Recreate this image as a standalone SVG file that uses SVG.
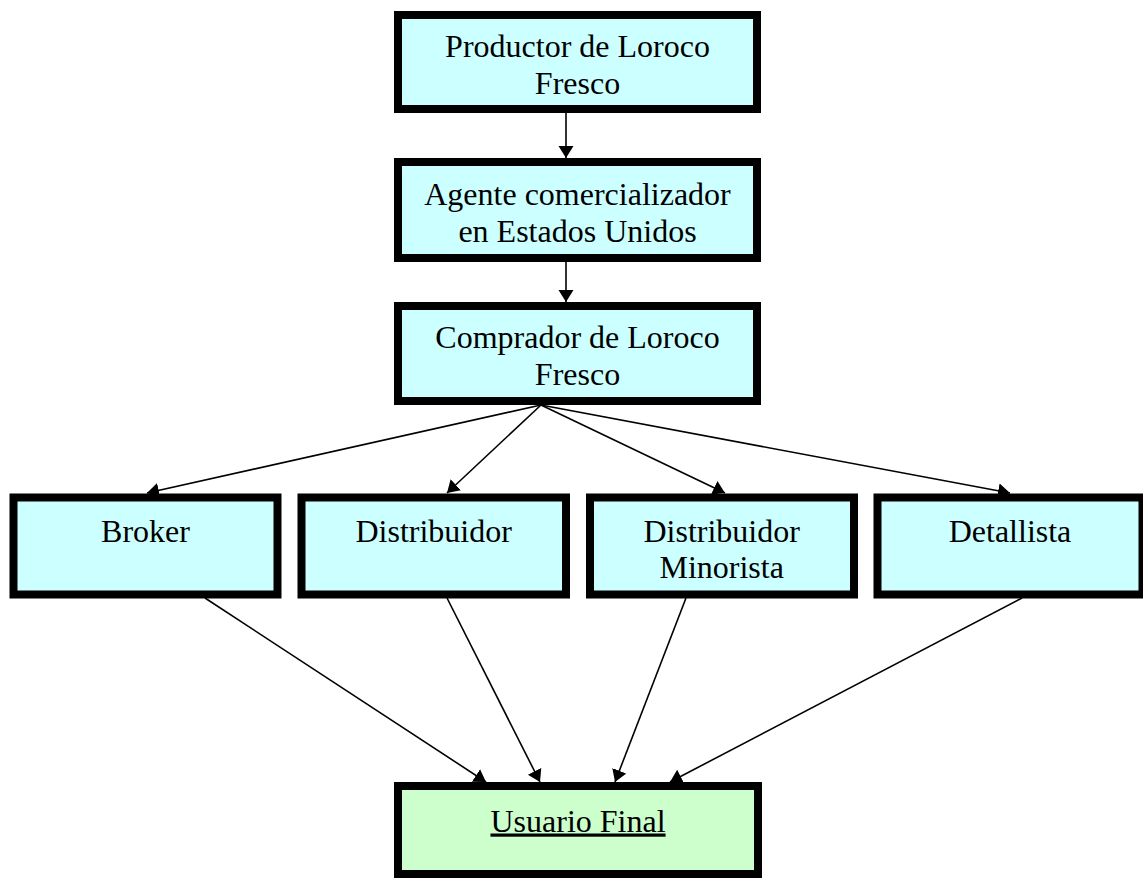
<svg xmlns="http://www.w3.org/2000/svg" width="1143" height="882" viewBox="0 0 1143 882">
<style>
.box{fill:#CCFFFF;stroke:#000;stroke-width:8}
.end{fill:#CCFFCC;stroke:#000;stroke-width:8}
.t{font-family:"Liberation Serif","Times New Roman",serif;font-size:32px;fill:#000;text-anchor:middle}
.c{stroke:#000;stroke-width:1.6;fill:none;marker-end:url(#ah)}
</style>
<defs>
<marker id="ah" markerUnits="userSpaceOnUse" markerWidth="14" markerHeight="16" refX="12" refY="7.5" orient="auto">
<path d="M0,0 L12,7.5 L0,15 z" fill="#000"/>
</marker>
</defs>
<rect width="1143" height="882" fill="#fff"/>
<g id="connectors">
<line class="c" x1="566" y1="113" x2="566" y2="158"/>
<line class="c" x1="566" y1="262" x2="566" y2="302"/>
<line class="c" x1="541" y1="405" x2="147" y2="493"/>
<line class="c" x1="541" y1="405" x2="447" y2="493"/>
<line class="c" x1="541" y1="405" x2="725" y2="493"/>
<line class="c" x1="541" y1="405" x2="1010" y2="493"/>
<line class="c" x1="205" y1="598" x2="486" y2="782"/>
<line class="c" x1="447" y1="598" x2="540" y2="782"/>
<line class="c" x1="686" y1="598" x2="615" y2="782"/>
<line class="c" x1="1022" y1="598" x2="670" y2="782"/>
</g>
<g id="productor">
<rect class="box" x="398" y="15" width="359" height="94"/>
<text class="t" x="577.5" y="57">Productor de Loroco</text>
<text class="t" x="577.5" y="93.5">Fresco</text>
</g>
<g id="agente">
<rect class="box" x="398" y="162" width="359" height="96"/>
<text class="t" x="577.5" y="205">Agente comercializador</text>
<text class="t" x="577.5" y="241.5">en Estados Unidos</text>
</g>
<g id="comprador">
<rect class="box" x="398" y="306" width="359" height="95"/>
<text class="t" x="577.5" y="348">Comprador de Loroco</text>
<text class="t" x="577.5" y="384.5">Fresco</text>
</g>
<g id="broker">
<rect class="box" x="13.5" y="497.5" width="264" height="97"/>
<text class="t" x="145.5" y="541.5">Broker</text>
</g>
<g id="distribuidor">
<rect class="box" x="301.5" y="497.5" width="264.5" height="97"/>
<text class="t" x="433.7" y="541.5">Distribuidor</text>
</g>
<g id="minorista">
<rect class="box" x="590" y="497.5" width="264" height="97"/>
<text class="t" x="721.7" y="541.5">Distribuidor</text>
<text class="t" x="721.7" y="578">Minorista</text>
</g>
<g id="detallista">
<rect class="box" x="877.5" y="497.5" width="265" height="97"/>
<text class="t" x="1010" y="541.5">Detallista</text>
</g>
<g id="usuario">
<rect class="end" x="398" y="786" width="360" height="88"/>
<text class="t" x="578" y="831.5" text-decoration="underline">Usuario Final</text>
</g>
</svg>
